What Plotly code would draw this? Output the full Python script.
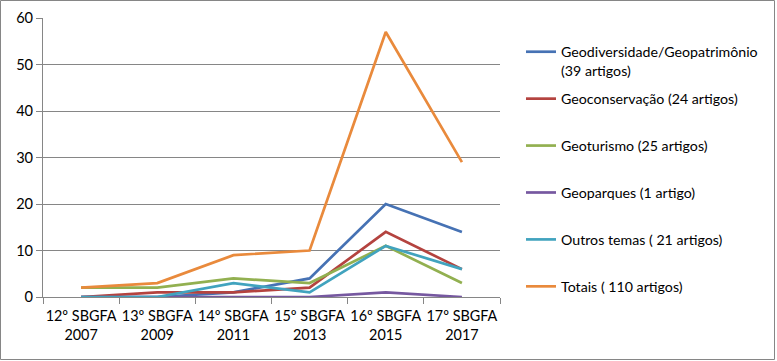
import plotly.graph_objects as go

categories = ["12º SBGFA<br>2007", "13º SBGFA<br>2009", "14º SBGFA<br>2011",
              "15º SBGFA<br>2013", "16º SBGFA<br>2015", "17º SBGFA<br>2017"]

geodiversidade = [0, 0, 1, 4, 20, 14]
geoconservacao = [0, 1, 1, 2, 14, 6]
geoturismo = [2, 2, 4, 3, 11, 3]
geoparques = [0, 0, 0, 0, 1, 0]
outros = [0, 0, 3, 1, 11, 6]
totais = [2, 3, 9, 10, 57, 29]

series_names = ["Geodiversidade/Geopatrimônio<br>(39 artigos)",
                "Geoconservação (24 artigos)<br>\u00a0",
                "Geoturismo (25 artigos)<br>\u00a0",
                "Geoparques (1 artigo)<br>\u00a0",
                "Outros temas ( 21 artigos)<br>\u00a0",
                "Totais ( 110 artigos)<br>\u00a0"]
series_values = [geodiversidade, geoconservacao, geoturismo, geoparques, outros, totais]
colors = ["#4672B4", "#B4433F", "#92B050", "#7658A0", "#41A3BE", "#E98A3C"]

fig = go.Figure()
for i, (name, vals, col) in enumerate(zip(series_names, series_values, colors)):
    fig.add_trace(go.Scatter(x=categories, y=vals, mode="lines", name=name,
                             line=dict(color=col, width=2.7),
                             legendgroup=f"g{i}"))

W, H = 777, 361
L, R, T, B = 43, 277, 18, 64
pw = W - L - R
ph = H - T - B

fig.update_layout(
    width=W, height=H,
    margin=dict(l=L, r=R, t=T, b=B, autoexpand=False),
    paper_bgcolor="white", plot_bgcolor="white",
    font=dict(family="Lato, Carlito, Calibri, sans-serif", size=14, color="#000000"),
    showlegend=True,
    legend=dict(x=(521 - L) / pw, xanchor="left", y=(H - B - 36) / ph, yanchor="top",
                font=dict(size=14.2), tracegroupgap=7, valign="top", maxheight=1000,
                bgcolor="rgba(0,0,0,0)"),
    xaxis=dict(type="category", range=[-0.5, 5.5], showgrid=False, automargin=False,
               showline=True, linecolor="#868686", linewidth=1, tickangle=0,
               ticks="outside", tickson="boundaries", ticklen=6, tickcolor="#868686",
               ticklabelstandoff=6, tickfont=dict(size=14.4)),
    yaxis=dict(range=[0, 60], dtick=10, showgrid=True, gridcolor="#868686", gridwidth=1,
               showline=True, linecolor="#868686", linewidth=1, automargin=False,
               ticks="outside", ticklen=6, tickcolor="#868686", zeroline=False,
               tickfont=dict(size=14.6)),
    shapes=[dict(type="rect", xref="paper", yref="paper",
                 x0=(0.5 - L) / pw, x1=(774.5 - L) / pw,
                 y0=(H - B - 359.5) / ph, y1=(H - B - 0.5) / ph,
                 line=dict(color="#868686", width=1), fillcolor="rgba(0,0,0,0)",
                 layer="below")],
)

fig.write_html("out.html", config={"displayModeBar": False},
               post_script="document.body.style.margin='0';document.body.style.overflow='hidden';")
